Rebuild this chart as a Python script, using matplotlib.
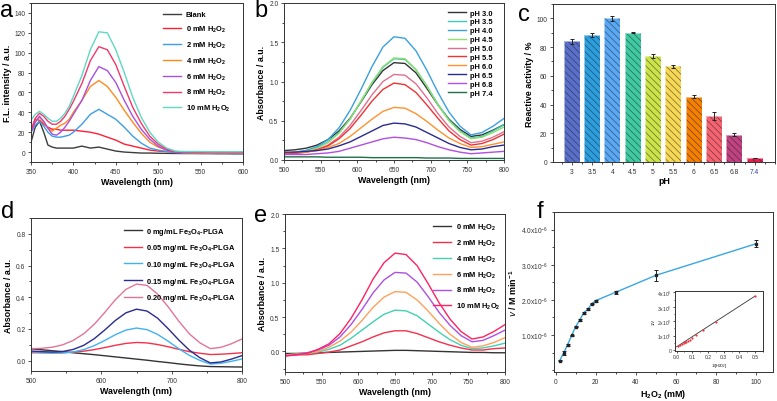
import matplotlib
matplotlib.use("Agg")
import matplotlib.pyplot as plt
from matplotlib.ticker import AutoMinorLocator, MultipleLocator

plt.rcParams['font.family'] = ['Liberation Sans', 'DejaVu Sans']
plt.rcParams['mathtext.default'] = 'regular'
plt.rcParams['hatch.linewidth'] = 0.5

# ---- data ----
# a: fluorescence spectra
wl_a = [350, 355, 360, 365, 370, 375, 380, 385, 390, 395, 400, 410, 420, 430, 440, 450, 460, 470, 480, 490,
        500, 510, 520, 530, 540, 550, 560, 570, 580, 590, 600]
fl_blank = [10, 25, 31, 20, 7, 5, 4, 4, 4, 4, 4, 6, 4, 5, 3, 1, 0, -0.5, -1, -1,
            -1.2, -1.3, -1.4, -1.5, -1.5, -1.6, -1.6, -1.7, -1.7, -1.8, -1.8]
fl_0 = [20, 33, 32, 28, 25, 23, 23, 22, 22, 22, 22, 21, 20, 18, 15, 12, 8, 6, 4, 2,
        1, 0.5, 0, 0, -0.3, -0.5, -0.5, -0.6, -0.6, -0.7, -0.7]
fl_2 = [20, 27, 31, 26, 20, 16, 15, 15, 16, 17, 20, 28, 38, 43, 38, 33, 25, 16, 9, 4,
        2, 0.5, -0.5, -1, -1, -1.2, -1.2, -1.3, -1.3, -1.4, -1.4]
fl_4 = [22, 31, 35, 30, 24, 21, 24, 27, 29, 33, 40, 52, 66, 72, 66, 55, 42, 30, 19, 10,
        5, 2, 0, -0.5, -0.8, -1, -1, -1, -1.1, -1.1, -1.2]
fl_6 = [20, 30, 36, 31, 24, 18, 17, 20, 25, 31, 38, 52, 72, 86, 82, 70, 52, 36, 23, 13,
        6, 2, 0, -0.5, -0.5, -0.6, -0.7, -0.7, -0.8, -0.8, -0.8]
fl_8 = [22, 34, 39, 36, 31, 28, 28, 31, 36, 43, 51, 69, 92, 106, 103, 88, 66, 45, 29, 16,
        8, 3, 0.5, 0, 0, -0.2, -0.2, -0.3, -0.3, -0.3, -0.3]
fl_10 = [32, 38, 41, 38, 34, 31, 31, 34, 39, 46, 56, 77, 103, 121, 120, 103, 80, 55, 35, 20,
         10, 4, 1, 0.5, 0.5, 0.5, 0.3, 0.3, 0.3, 0.3, 0.3]
labels_a = ['Blank', '0 mM H$_2$O$_2$', '2 mM H$_2$O$_2$', '4 mM H$_2$O$_2$',
            '6 mM H$_2$O$_2$', '8 mM H$_2$O$_2$', '10 mM H$_2$O$_2$']
colors_a = ['#3c3c3c', '#ff1f35', '#3a9ee6', '#ff8a1c', '#a94fe0', '#f2386a', '#5fd8c4']

# b, d, e: absorbance spectra
wl = [500, 515, 530, 545, 560, 575, 590, 605, 620, 635, 650, 665, 680, 695, 710, 725, 740, 755, 770, 785, 800]
ph30 = [0.12, 0.13, 0.15, 0.19, 0.26, 0.37, 0.53, 0.74, 0.96, 1.14, 1.24, 1.23, 1.11, 0.91, 0.70, 0.52, 0.39, 0.30, 0.32, 0.38, 0.45]
ph35 = [0.08, 0.10, 0.12, 0.16, 0.23, 0.35, 0.52, 0.75, 0.98, 1.18, 1.29, 1.28, 1.15, 0.94, 0.71, 0.51, 0.37, 0.28, 0.30, 0.37, 0.45]
ph40 = [0.08, 0.10, 0.12, 0.17, 0.26, 0.41, 0.63, 0.90, 1.19, 1.44, 1.57, 1.55, 1.39, 1.14, 0.86, 0.61, 0.43, 0.32, 0.35, 0.43, 0.53]
ph45 = [0.07, 0.09, 0.11, 0.15, 0.22, 0.34, 0.52, 0.75, 0.99, 1.19, 1.30, 1.29, 1.15, 0.94, 0.70, 0.50, 0.36, 0.27, 0.29, 0.35, 0.42]
ph50 = [0.07, 0.08, 0.10, 0.13, 0.19, 0.29, 0.44, 0.63, 0.83, 1.00, 1.09, 1.08, 0.97, 0.79, 0.59, 0.42, 0.30, 0.22, 0.24, 0.29, 0.36]
ph55 = [0.08, 0.09, 0.10, 0.13, 0.18, 0.27, 0.40, 0.57, 0.75, 0.90, 0.98, 0.96, 0.86, 0.70, 0.53, 0.37, 0.26, 0.19, 0.21, 0.26, 0.33]
ph60 = [0.09, 0.10, 0.10, 0.12, 0.16, 0.21, 0.30, 0.41, 0.52, 0.62, 0.67, 0.66, 0.59, 0.49, 0.38, 0.28, 0.21, 0.16, 0.17, 0.20, 0.23]
ph65 = [0.10, 0.10, 0.11, 0.12, 0.14, 0.18, 0.23, 0.30, 0.37, 0.44, 0.47, 0.46, 0.42, 0.35, 0.28, 0.21, 0.16, 0.13, 0.14, 0.17, 0.19]
ph68 = [0.07, 0.07, 0.07, 0.08, 0.09, 0.11, 0.15, 0.19, 0.23, 0.27, 0.29, 0.28, 0.26, 0.22, 0.17, 0.13, 0.10, 0.08, 0.09, 0.10, 0.11]
ph74 = [0.04, 0.04, 0.04, 0.04, 0.035, 0.035, 0.035, 0.035, 0.03, 0.03, 0.03, 0.03, 0.03, 0.025, 0.025, 0.025, 0.02, 0.02, 0.02, 0.02, 0.02]
labels_b = ['pH 3.0', 'pH 3.5', 'pH 4.0', 'pH 4.5', 'pH 5.0', 'pH 5.5', 'pH 6.0', 'pH 6.5', 'pH 6.8', 'pH 7.4']
colors_b = ['#333333', '#3cc8b4', '#3aa0e0', '#8fe070', '#e0708f', '#f03232', '#ff922e', '#2b2b8f', '#b04fe0', '#1f7048']

fe000 = [0.075, 0.069, 0.063, 0.057, 0.05, 0.044, 0.038, 0.031, 0.024, 0.017, 0.01, 0.003, -0.005, -0.012, -0.02, -0.027, -0.033, -0.037, -0.038, -0.039, -0.04]
fe005 = [0.05, 0.05, 0.05, 0.051, 0.054, 0.06, 0.07, 0.083, 0.097, 0.109, 0.115, 0.112, 0.102, 0.088, 0.072, 0.057, 0.047, 0.039, 0.041, 0.045, 0.05]
fe010 = [0.056, 0.051, 0.048, 0.048, 0.055, 0.07, 0.095, 0.128, 0.164, 0.193, 0.206, 0.196, 0.166, 0.123, 0.076, 0.034, 0.002, -0.021, -0.016, -0.004, 0.011]
fe015 = [0.061, 0.057, 0.055, 0.058, 0.071, 0.097, 0.139, 0.194, 0.254, 0.302, 0.325, 0.313, 0.268, 0.202, 0.131, 0.067, 0.019, -0.014, -0.008, 0.01, 0.032]
fe020 = [0.076, 0.078, 0.085, 0.10, 0.128, 0.17, 0.23, 0.305, 0.385, 0.45, 0.483, 0.475, 0.42, 0.34, 0.25, 0.17, 0.113, 0.076, 0.084, 0.107, 0.137]
labels_d = ['0 mg/mL Fe$_3$O$_4$-PLGA', '0.05 mg/mL Fe$_3$O$_4$-PLGA', '0.10 mg/mL Fe$_3$O$_4$-PLGA',
            '0.15 mg/mL Fe$_3$O$_4$-PLGA', '0.20 mg/mL Fe$_3$O$_4$-PLGA']
colors_d = ['#333333', '#f5304a', '#40b2f2', '#2b2b8f', '#e27596']

e0 = [-0.03, -0.03, -0.025, -0.02, -0.015, -0.01, -0.005, 0.0, 0.005, 0.01, 0.015, 0.015, 0.01, 0.005, 0.0, -0.005, -0.01, -0.015, -0.015, -0.02, -0.02]
e2 = [-0.06, -0.05, -0.05, -0.03, -0.01, 0.02, 0.08, 0.14, 0.21, 0.27, 0.30, 0.30, 0.26, 0.20, 0.14, 0.09, 0.05, 0.02, 0.02, 0.04, 0.05]
e4 = [-0.05, -0.04, -0.03, -0.01, 0.03, 0.09, 0.19, 0.31, 0.43, 0.54, 0.60, 0.59, 0.52, 0.40, 0.28, 0.17, 0.09, 0.04, 0.05, 0.08, 0.12]
e6 = [-0.05, -0.04, -0.03, 0.00, 0.06, 0.15, 0.28, 0.45, 0.64, 0.79, 0.87, 0.86, 0.75, 0.59, 0.41, 0.25, 0.13, 0.06, 0.08, 0.13, 0.20]
e8 = [-0.06, -0.05, -0.02, 0.02, 0.09, 0.21, 0.39, 0.61, 0.85, 1.04, 1.15, 1.14, 1.01, 0.80, 0.57, 0.38, 0.23, 0.14, 0.16, 0.23, 0.31]
e10 = [-0.07, -0.05, -0.03, 0.03, 0.11, 0.26, 0.48, 0.75, 1.05, 1.29, 1.43, 1.41, 1.25, 0.99, 0.71, 0.47, 0.29, 0.18, 0.21, 0.29, 0.39]
labels_e = ['0 mM H$_2$O$_2$', '2 mM H$_2$O$_2$', '4 mM H$_2$O$_2$', '6 mM H$_2$O$_2$',
            '8 mM H$_2$O$_2$', '10 mM H$_2$O$_2$']
colors_e = ['#333333', '#f2304c', '#42d0b2', '#ffa05c', '#b04fe0', '#ff2262']

# c: reactive activity vs pH
ph_labels = ['3', '3.5', '4', '4.5', '5', '5.5', '6', '6.5', '6.8', '7.4']
activity = [84, 88.5, 100, 90, 74, 66.5, 45.5, 32, 19, 2.5]
activity_err = [1.5, 1.5, 1.5, 0.5, 1.5, 1.0, 1.2, 2.5, 1.0, 0]
bar_colors = ['#5a70c8', '#2c9edc', '#5aa8f2', '#3fcaa0', '#cce446', '#f7d851', '#f57f00', '#f5636f', '#c0427f', '#e8204c']

# f: kinetics
h2o2 = [2, 4, 6, 8, 10, 12, 14, 16, 18, 20, 30, 50, 100]
rate = [0.27e-6, 0.49e-6, 0.73e-6, 0.99e-6, 1.24e-6, 1.43e-6, 1.63e-6, 1.73e-6, 1.89e-6, 1.98e-6, 2.22e-6, 2.70e-6, 3.60e-6]
rate_err = [0.02e-6, 0.05e-6, 0.03e-6, 0.02e-6, 0.02e-6, 0.03e-6, 0.03e-6, 0.03e-6, 0.02e-6, 0.03e-6, 0.04e-6, 0.16e-6, 0.10e-6]
f_yticks = [1e-6, 2e-6, 3e-6, 4e-6]
f_yticklabels = ['1.0x10$^{-6}$', '2.0x10$^{-6}$', '3.0x10$^{-6}$', '4.0x10$^{-6}$']
inv_s = [0.5, 0.25, 0.167, 0.125, 0.1, 0.083, 0.071, 0.0625, 0.056, 0.05, 0.033, 0.02, 0.01]
inv_v = [3.72e6, 1.98e6, 1.37e6, 1.01e6, 0.81e6, 0.70e6, 0.61e6, 0.58e6, 0.53e6, 0.51e6, 0.45e6, 0.37e6, 0.28e6]
fit_x = [0.0, 0.5]
fit_y = [0.22e6, 3.75e6]
inset_yticks = [0, 1e6, 2e6, 3e6, 4e6]
inset_yticklabels = ['0', '1x10$^6$', '2x10$^6$', '3x10$^6$', '4x10$^6$']

W, H = 777, 402
fig = plt.figure(figsize=(7.77, 4.02), dpi=100)


def box(x0, y0, x1, y1):
    return fig.add_axes([x0 / W, 1 - y1 / H, (x1 - x0) / W, (y1 - y0) / H])


def style(ax, minor=True):
    for s in ax.spines.values():
        s.set_linewidth(0.7)
        s.set_color('#333333')
    ax.tick_params(direction='out', length=2.5, width=0.6, labelsize=4.8, pad=1.5, colors='#333333')
    ax.tick_params(which='minor', direction='out', length=1.5, width=0.5)
    if minor:
        ax.xaxis.set_minor_locator(AutoMinorLocator(2))
        ax.yaxis.set_minor_locator(AutoMinorLocator(2))


LBL = dict(fontsize=6.4, fontweight='bold')
LEG = dict(prop={'weight': 'bold', 'size': 5.4}, frameon=False, handlelength=2.4,
           handletextpad=0.6, borderpad=0, borderaxespad=0)

# ---- a ----
ax = box(31, 4, 243, 163)
for y, lab, c in zip([fl_blank, fl_0, fl_2, fl_4, fl_6, fl_8, fl_10], labels_a, colors_a):
    ax.plot(wl_a, y, color=c, lw=1.0, label=lab)
ax.set_xlim(350, 600)
ax.set_ylim(-10, 150)
ax.xaxis.set_major_locator(MultipleLocator(50))
ax.yaxis.set_major_locator(MultipleLocator(20))
style(ax)
ax.set_xlabel('Wavelength (nm)', labelpad=2, **LBL)
ax.set_ylabel('F.L. intensity / a.u.', labelpad=2, **LBL)
ax.legend(loc='upper right', bbox_to_anchor=(0.94, 0.95), labelspacing=0.75, **LEG)

# ---- b ----
ax = box(284, 4, 504, 161)
for y, lab, c in zip([ph30, ph35, ph40, ph45, ph50, ph55, ph60, ph65, ph68, ph74], labels_b, colors_b):
    ax.plot(wl, y, color=c, lw=1.0, label=lab)
ax.set_xlim(500, 800)
ax.set_ylim(0, 2.0)
ax.xaxis.set_major_locator(MultipleLocator(50))
ax.yaxis.set_major_locator(MultipleLocator(0.5))
style(ax)
ax.set_xlabel('Wavelength (nm)', labelpad=2, **LBL)
ax.set_ylabel('Absorbance / a.u.', labelpad=2, **LBL)
ax.legend(loc='upper right', bbox_to_anchor=(0.95, 0.96), labelspacing=0.22, **LEG)

# ---- c ----
ax = box(553, 5, 775, 163)
xs = list(range(len(ph_labels)))
ax.bar(xs, activity, width=0.8, color=bar_colors, edgecolor=(0.1, 0.1, 0.2, 0.6),
       linewidth=0, hatch='\\\\\\\\\\')
ax.bar(xs, activity, width=0.8, fill=False, edgecolor=(1, 1, 1, 0.6), linewidth=0.6)
ax.errorbar(xs, activity, yerr=activity_err, fmt='none', ecolor='#222222', elinewidth=0.7,
            capsize=1.6, capthick=0.7)
ax.set_xlim(-0.92, 10.0)
ax.set_ylim(0, 110)
ax.set_xticks(xs)
ax.set_xticklabels(ph_labels)
ax.yaxis.set_major_locator(MultipleLocator(20))
style(ax)
ax.get_xticklabels()[-1].set_color('#2a3fa8')
ax.set_xlabel('pH', labelpad=1, **LBL)
ax.set_ylabel('Reactive activity / %', labelpad=2, **LBL)

# ---- d ----
ax = box(31, 219, 242, 372)
for y, lab, c in zip([fe000, fe005, fe010, fe015, fe020], labels_d, colors_d):
    ax.plot(wl, y, color=c, lw=1.0, label=lab)
ax.set_xlim(500, 800)
ax.set_ylim(-0.065, 0.9)
ax.xaxis.set_major_locator(MultipleLocator(100))
ax.yaxis.set_major_locator(MultipleLocator(0.2))
style(ax)
ax.set_xlabel('Wavelength (nm)', labelpad=2, **LBL)
ax.set_ylabel('Absorbance / a.u.', labelpad=2, **LBL)
ax.legend(loc='upper right', bbox_to_anchor=(0.97, 0.95), labelspacing=0.75, **LEG)

# ---- e ----
ax = box(285, 215, 505, 373)
for y, lab, c in zip([e0, e2, e4, e6, e8, e10], labels_e, colors_e):
    ax.plot(wl, y, color=c, lw=1.0, label=lab)
ax.set_xlim(500, 800)
ax.set_ylim(-0.3, 2.0)
ax.xaxis.set_major_locator(MultipleLocator(50))
ax.yaxis.set_major_locator(MultipleLocator(0.5))
style(ax)
ax.set_xlabel('Wavelength (nm)', labelpad=2, **LBL)
ax.set_ylabel('Absorbance / a.u.', labelpad=2, **LBL)
ax.legend(loc='upper right', bbox_to_anchor=(0.98, 0.95), labelspacing=0.75, **LEG)

# ---- f ----
ax = box(554, 213, 773, 373)
ax.plot(h2o2, rate, color='#3aa6e4', lw=1.0)
ax.errorbar(h2o2, rate, yerr=rate_err, fmt='s', ms=1.8, color='#222222', ecolor='#222222',
            elinewidth=0.7, capsize=1.6, capthick=0.7)
ax.set_xlim(-0.8, 108.3)
ax.set_ylim(-0.05e-6, 4.5e-6)
ax.xaxis.set_major_locator(MultipleLocator(20))
ax.set_yticks(f_yticks)
ax.set_yticklabels(f_yticklabels)
style(ax)
ax.set_xlabel('H$_2$O$_2$ (mM)', labelpad=2, **LBL)
ax.set_ylabel('$\\it{v}$ / M min$^{-1}$', labelpad=2, **LBL)

ins = box(675, 292, 763, 352)
ins.plot(fit_x, fit_y, color='#333333', lw=0.6)
ins.scatter(inv_s, inv_v, s=2.5, color='#f0303c', zorder=3, linewidths=0)
ins.set_xlim(-0.01, 0.55)
ins.set_ylim(-0.07e6, 4.1e6)
ins.xaxis.set_major_locator(MultipleLocator(0.1))
ins.set_yticks(inset_yticks)
ins.set_yticklabels(inset_yticklabels)
style(ins)
ins.tick_params(labelsize=3.6, length=1.5, pad=1)
ins.tick_params(which='minor', length=1)
ins.set_xlabel('1/[H$_2$O$_2$]', fontsize=2.8, labelpad=1)
ins.set_ylabel('1/V', fontsize=2.8, labelpad=1)

# panel letters
for t, x, y in [('a', 0, 0), ('b', 254, 0), ('c', 518, 4), ('d', 1, 201), ('e', 254, 205), ('f', 537, 201)]:
    fig.text(x / W, 1 - y / H, t, fontsize=17, va='top', ha='left')

fig.savefig('out.png', dpi=100, facecolor='white')
